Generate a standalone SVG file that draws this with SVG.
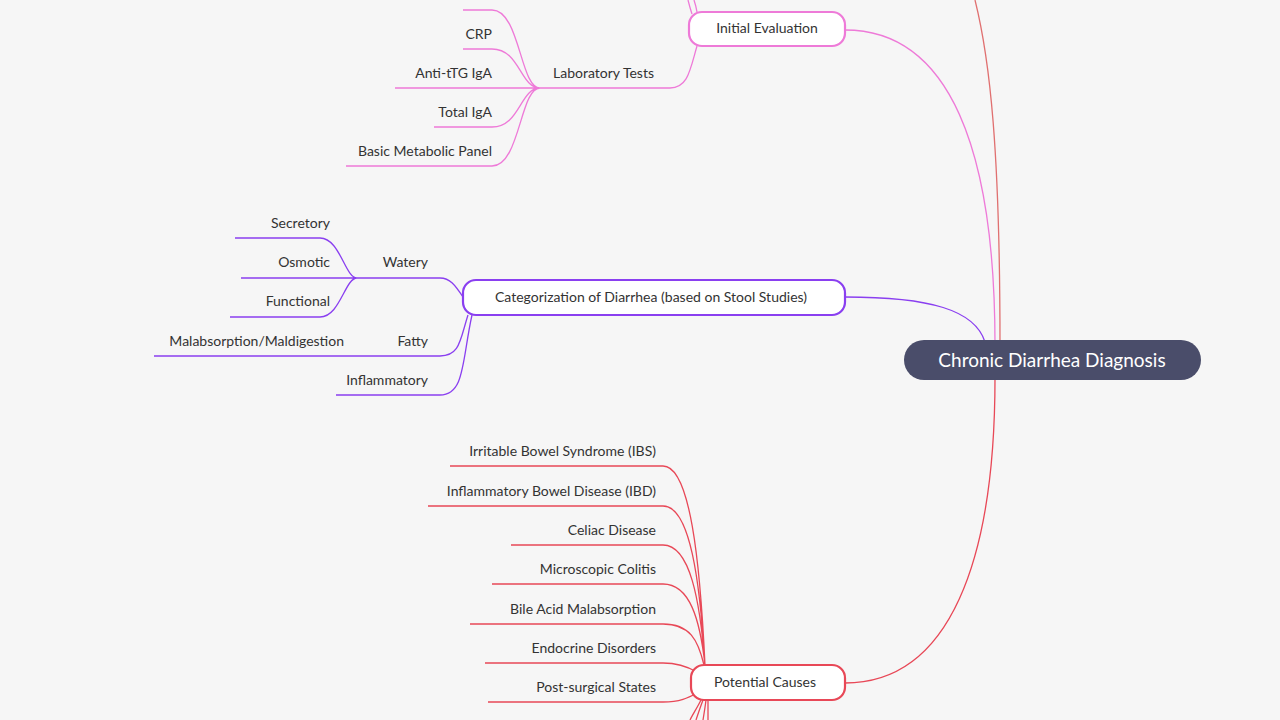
<svg xmlns="http://www.w3.org/2000/svg" width="1280" height="720" viewBox="0 0 1280 720">
<style>
text{font-family:Lato,"Noto Sans",sans-serif;font-size:14px;fill:#333}
.r{text-anchor:end}
.m{text-anchor:middle}
.c path{fill:none;stroke-width:1.3}
.pk{stroke:#ee7ad8}.pu{stroke:#8a3ff0}.rd{stroke:#e84857}
.box{fill:#fff;stroke-width:2.2}
</style>
<rect width="1280" height="720" fill="#f6f6f6"/>
<g class="c" id="connectors">
<path d="M1000,345 C1000,150 990,60 975,0" stroke="#e07070" stroke-width="2.2"/>
<path class="pk" d="M995,345 C995,150 950,30 845,30" stroke-width="2.5"/>
<path class="pu" d="M985,342 C975,310 930,297 845,297" stroke-width="2.5"/>
<path class="rd" d="M995,378 C995,560 950,683 845,683" stroke-width="2.5"/>
<path class="pk" d="M692,14 C690,8 689,4 688,0 M697,12 C696,6 695,3 694,0"/>
<path class="pk" d="M697,46 C690,70 688,88 670,88 L540,88"/>
<path class="pk" d="M463,10 L492,10 C520,10 520,88 540,88 M463,49 L492,49 C520,49 520,88 540,88 M395,88 L540,88 M434,127 L492,127 C520,127 520,88 540,88 M346,166 L492,166 C520,166 520,88 540,88"/>
<path class="pu" d="M463,297 C455,285 450,278 440,278 L357,278"/>
<path class="pu" d="M235,238 L320,238 C340,238 345,278 357,278 M241,278 L357,278 M230,317 L320,317 C340,317 345,278 357,278"/>
<path class="pu" d="M468,315 C460,340 460,356 440,356 L154,356 M472,315 C462,360 465,395 440,395 L336,395"/>
<path class="rd" d="M450,466 L663,466 C690,466 700,560 705,665 M428,506 L663,506 C690,506 700,580 705,665 M511,545 L663,545 C690,545 700,600 705,665 M492,584 L663,584 C690,584 700,620 705,665 M470,624 L663,624 C690,624 698,640 704,665 M485,663 L663,663 C680,663 690,668 697,672 M488,702 L663,702 C680,702 688,698 697,693"/>
<path class="rd" d="M703,700 C700,708 698,714 696,720 M706,700 C705,708 704,714 703,720 M708,700 L708,720 M701,700 C697,708 693,714 690,720"/>
</g>
<g id="root"><rect x="904" y="340" width="297" height="40" rx="20" fill="#4a4d6a"/><text x="1052" y="367" class="m" style="font-size:19px;fill:#fff">Chronic Diarrhea Diagnosis</text></g>
<g id="initial"><rect class="box pk" x="689" y="12" width="156" height="34" rx="13"/><text x="767" y="33" class="m">Initial Evaluation</text></g>
<g id="categ"><rect class="box pu" x="463" y="280" width="382" height="35" rx="13"/><text x="651" y="302" class="m">Categorization of Diarrhea (based on Stool Studies)</text></g>
<g id="causes"><rect class="box rd" x="691" y="665" width="154" height="35" rx="13"/><text x="765" y="687" class="m">Potential Causes</text></g>
<g id="lab"><text x="654" y="78" class="r">Laboratory Tests</text></g>
<g id="crp"><text x="492" y="39" class="r">CRP</text></g>
<g id="ttg"><text x="492" y="78" class="r">Anti-tTG IgA</text></g>
<g id="tiga"><text x="492" y="117" class="r">Total IgA</text></g>
<g id="bmp"><text x="492" y="156" class="r">Basic Metabolic Panel</text></g>
<g id="watery"><text x="428" y="267" class="r">Watery</text></g>
<g id="secretory"><text x="330" y="228" class="r">Secretory</text></g>
<g id="osmotic"><text x="330" y="267" class="r">Osmotic</text></g>
<g id="functional"><text x="330" y="306" class="r">Functional</text></g>
<g id="fatty"><text x="428" y="346" class="r">Fatty</text></g>
<g id="malabs"><text x="344" y="346" class="r">Malabsorption/Maldigestion</text></g>
<g id="inflam"><text x="428" y="385" class="r">Inflammatory</text></g>
<g id="ibs"><text x="656" y="456" class="r">Irritable Bowel Syndrome (IBS)</text></g>
<g id="ibd"><text x="656" y="496" class="r">Inflammatory Bowel Disease (IBD)</text></g>
<g id="celiac"><text x="656" y="535" class="r">Celiac Disease</text></g>
<g id="micro"><text x="656" y="574" class="r">Microscopic Colitis</text></g>
<g id="bile"><text x="656" y="614" class="r">Bile Acid Malabsorption</text></g>
<g id="endo"><text x="656" y="653" class="r">Endocrine Disorders</text></g>
<g id="post"><text x="656" y="692" class="r">Post-surgical States</text></g>
</svg>
